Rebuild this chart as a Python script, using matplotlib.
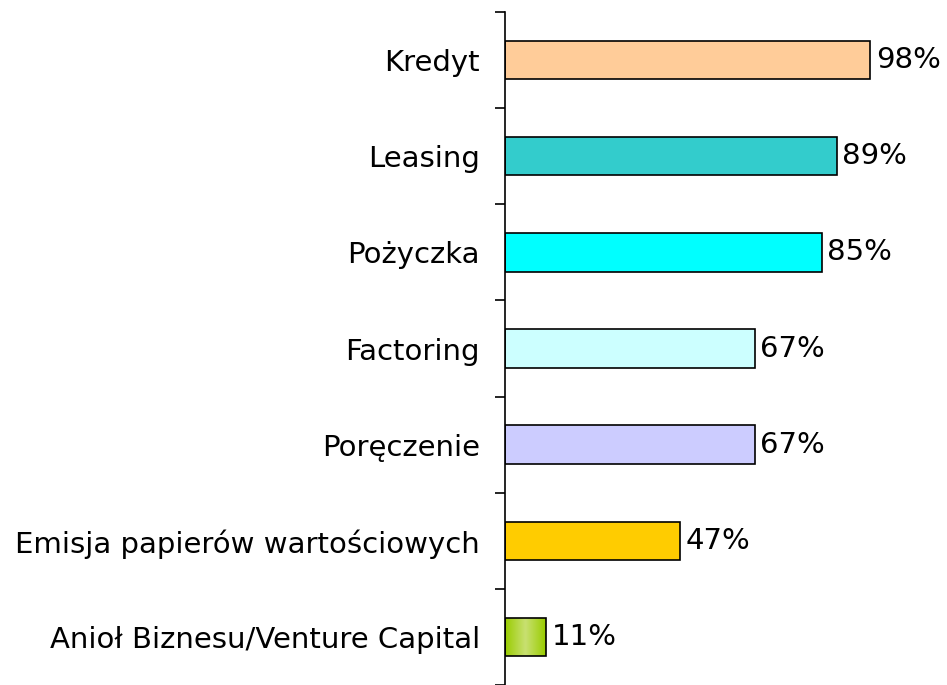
import numpy as np
import matplotlib.pyplot as plt
import matplotlib.colors as mcolors

categories = ["Kredyt", "Leasing", "Pożyczka", "Factoring", "Poręczenie",
              "Emisja papierów wartościowych", "Anioł Biznesu/Venture Capital"]
values = [0.98, 0.89, 0.85, 0.67, 0.67, 0.47, 0.11]
labels = ["98%", "89%", "85%", "67%", "67%", "47%", "11%"]
colors = ["#FFCC99", "#33CCCC", "#00FFFF", "#CCFFFF", "#CCCCFF", "#FFCC00", "#A4CF30"]

fig = plt.figure(figsize=(9.47, 6.85), dpi=100)
ax = fig.add_axes([505 / 947, 0.0, 410 / 947, 1 - 12 / 685])

y = np.arange(len(categories))
bars = ax.barh(y, values, height=0.4, color=colors, edgecolor="black", linewidth=1.2)

# gradient on the last bar
b = bars[-1]
grad = np.concatenate([np.linspace(0, 1, 50), np.linspace(1, 0, 50)]).reshape(1, -1)
cmap = mcolors.LinearSegmentedColormap.from_list("g", ["#99CC00", "#C8E070"])
im = ax.imshow(grad, cmap=cmap, aspect="auto", zorder=b.get_zorder(),
               extent=[b.get_x(), b.get_x() + b.get_width(), b.get_y(), b.get_y() + b.get_height()])
im.set_clip_path(b)
b.set_facecolor("none")
b.set_zorder(im.get_zorder() + 0.1)

for yi, v, lab in zip(y, values, labels):
    ax.annotate(lab, (v, yi), xytext=(4, 0), textcoords="offset points",
                va="center", ha="left", fontsize=21)

ax.set_xlim(0, 1.1)
ax.set_ylim(len(categories) - 0.5, -0.5)
ax.set_yticks(np.arange(len(categories) + 1) - 0.5)
ax.set_yticklabels([])
ax.set_yticks(y, minor=True)
ax.set_yticklabels(categories, minor=True, fontsize=21)
ax.tick_params(axis="y", which="major", length=7.5, width=1.2, direction="out")
ax.tick_params(axis="y", which="minor", length=0, pad=18)
ax.set_xticks([])
for s in ["top", "right", "bottom"]:
    ax.spines[s].set_visible(False)
ax.spines["left"].set_linewidth(1.2)

fig.savefig("out.png", dpi=100)
